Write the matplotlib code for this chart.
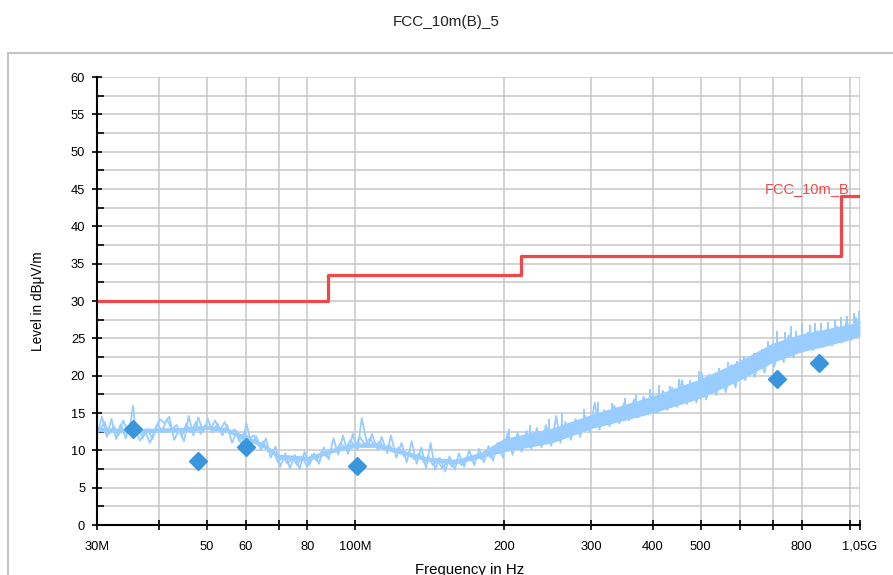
import matplotlib
matplotlib.use("Agg")
import matplotlib.pyplot as plt
import numpy as np
from matplotlib.patches import Rectangle

plt.rcParams['font.family'] = ['Liberation Sans', 'DejaVu Sans']

title = "FCC_10m(B)_5"

# Measured trace (MHz, dBµV/m)
trace_freq = [30, 30.7, 31.4, 32.1, 32.8, 33.5, 34.3, 35.1, 35.5, 35.9, 36.7, 37.5, 38.4, 39.3,
              40.2, 41.1, 42.0, 43.0, 44.0, 45.0, 46.0, 47.0, 48.1, 49.2, 50.3, 51.4, 52.6, 53.8,
              55.0, 56.3, 57.6, 58.9, 60.2, 61.6, 63.0, 64.4, 65.9, 67.4, 68.9, 70.5, 72.1, 73.7,
              75.4, 77.1, 78.9, 80.7, 82.5, 84.4, 86.3, 88.3, 90.3, 92.3, 94.4, 96.6, 98.8, 101,
              103, 106, 108, 111, 113, 116, 118, 121, 124, 127, 130, 133, 136, 139, 142, 145, 148,
              152, 155, 159, 162, 166, 170, 174, 178, 182, 186, 190, 194, 199, 203, 208, 213, 217,
              222, 227, 233, 238, 243, 249, 255, 260, 266, 273, 279, 285, 292, 298, 305, 312, 319,
              327, 334, 342, 350, 358, 366, 374, 383, 391, 400, 409, 419, 428, 438, 448, 458, 469,
              480, 490, 502, 513, 525, 537, 549, 562, 575, 588, 601, 615, 629, 643, 658, 673, 688,
              704, 720, 736, 753, 770, 788, 806, 824, 843, 862, 882, 902, 922, 943, 965, 987, 1010,
              1030, 1050]
trace_level = [12.0, 14.5, 11.8, 14.2, 11.5, 13.5, 11.6, 13.8, 16.0, 12.5, 11.3, 12.6, 11.0, 12.8,
               14.2, 13.6, 14.5, 11.4, 12.8, 11.2, 14.6, 12.0, 14.4, 12.5, 14.2, 12.4, 13.6, 12.0,
               13.4, 11.0, 12.6, 10.6, 13.6, 10.8, 11.9, 10.0, 11.6, 9.0, 10.5, 7.8, 9.6, 7.6,
               9.4, 7.5, 9.8, 8.0, 9.6, 8.2, 10.4, 8.8, 11.6, 9.4, 12.0, 9.5, 12.2, 10.0,
               14.3, 10.4, 12.2, 10.0, 11.8, 9.6, 12.0, 9.0, 11.0, 8.4, 11.2, 8.2, 10.4, 7.6, 11.0, 7.4, 9.0,
               7.2, 9.2, 7.4, 9.6, 7.8, 10.0, 8.0, 10.2, 8.4, 10.6, 8.6, 11.0, 9.0, 12.2, 9.4, 12.4, 9.8,
               12.6, 10.2, 13.0, 10.4, 13.4, 10.6, 14.6, 11.0, 13.8, 11.4, 14.2, 11.8, 14.6, 12.4, 16.4, 12.8, 15.4,
               13.2, 16.0, 13.6, 16.4, 14.0, 16.8, 14.4, 17.2, 14.8, 17.6, 15.0, 18.0, 15.4, 18.4, 15.8, 19.4, 16.2,
               18.8, 16.4, 20.4, 16.8, 19.6, 17.4, 20.0, 17.8, 21.4, 18.4, 22.2, 19.4, 21.6, 19.8, 22.4, 20.4, 24.0,
               21.2, 23.8, 21.8, 25.4, 22.4, 25.2, 23.2, 25.8, 23.4, 26.0, 23.8, 26.2, 24.0, 26.6, 24.4, 27.4, 24.8,
               27.8, 25.4]

# Interleaved trace samples in the lower band (MHz, dBµV/m)
trace2_freq = [30.35, 31.05, 31.75, 32.45, 33.15, 33.9, 34.7, 36.3, 37.1, 37.95,
               38.85, 39.75, 40.65, 41.55, 42.5, 43.5, 44.5, 45.5, 46.5, 47.55,
               48.65, 49.75, 50.85, 52.0, 53.2, 54.4, 55.65, 56.95, 58.25, 59.55,
               60.9, 62.3, 63.7, 65.15, 66.65, 68.15, 69.7, 71.3, 72.9, 74.55,
               76.25, 78.0, 79.8, 81.6, 83.45, 85.35, 87.3, 89.3, 91.3, 93.35,
               95.5, 97.7, 99.9, 102, 104.5, 107, 109.5, 112, 114.5, 117,
               119.5, 122.5, 125.5, 128.5, 131.5, 134.5, 137.5, 140.5, 143.5, 146.5,
               150, 153.5, 157, 160.5, 164, 168, 172, 176, 180, 184,
               188, 192, 196.5]
trace2_level = [12.6, 13.8, 12.2, 13.2, 12.0, 14.0, 12.4, 13.0, 11.6, 12.9,
                11.5, 13.5, 12.6, 14.2, 12.8, 13.4, 11.8, 13.6, 12.4, 13.8,
                12.2, 13.4, 12.8, 14.0, 12.6, 13.8, 12.2, 12.8, 11.2, 12.4,
                11.6, 12.0, 10.6, 11.2, 9.8, 10.0, 8.4, 9.2, 8.2, 9.0,
                8.0, 9.2, 7.8, 9.4, 8.6, 9.8, 9.2, 10.2, 9.8, 11.0,
                10.2, 11.4, 10.4, 11.8, 10.8, 11.6, 10.6, 11.2, 10.2, 10.8,
                9.8, 10.4, 9.2, 9.8, 8.8, 9.6, 8.4, 9.2, 8.0, 8.6,
                7.6, 8.6, 7.8, 8.8, 8.0, 9.0, 8.6, 9.4, 8.8, 10.0,
                9.0, 10.4, 9.6]

# Solid core of the dense trace
band_freq = [30, 35, 40, 45, 50, 55, 60, 65, 70, 80, 90, 100, 110, 125, 140, 160, 180, 200, 250, 300,
             400, 500, 600, 700, 800, 900, 1000, 1050]
band_lo = [12.5, 12.3, 12.4, 12.5, 12.8, 12.4, 11.4, 10.4, 8.9, 8.6, 9.7, 10.4, 10.4, 9.4, 8.5, 8.2,
           9.0, 9.8, 11.0, 12.9, 15.0, 17.0, 19.4, 21.8, 23.2, 24.0, 24.8, 25.3]
band_hi = [13.1, 12.9, 13.0, 13.1, 13.4, 13.0, 12.0, 11.0, 9.5, 9.2, 10.3, 11.0, 11.0, 10.0, 9.1, 8.8,
           9.8, 11.6, 13.0, 14.8, 17.3, 19.6, 22.0, 24.4, 25.6, 26.3, 26.9, 27.3]

# Isolated spikes on top of the dense trace
spike_freq = [205, 226, 247, 262, 290, 310, 330, 352, 370, 395, 412, 433, 452, 475, 497, 520, 545, 568,
              592, 612, 640, 665, 685, 700, 712, 740, 760, 780, 800, 830, 850, 875, 905, 935, 960, 990,
              1020, 1045]
spike_top = [12.8, 13.4, 14.2, 15.0, 15.6, 16.5, 16.4, 17.0, 17.6, 18.2, 18.8, 18.6, 19.6, 19.4, 20.6,
             20.2, 21.0, 21.8, 22.0, 22.6, 23.0, 23.6, 24.6, 24.2, 26.0, 25.8, 26.6, 26.0, 27.0, 26.8,
             27.0, 27.0, 27.2, 27.4, 27.8, 28.0, 28.4, 28.6]

# Final measurement points
peak_freq = [35.4, 48.0, 60.0, 100.8, 714, 868]
peak_level = [12.9, 8.6, 10.4, 7.9, 19.6, 21.7]

# Limit line FCC_10m_B
limit_freq = [30, 88, 88, 216, 216, 960, 960, 1050]
limit_level = [30, 30, 33.5, 33.5, 36, 36, 44, 44]
limit_name = "FCC_10m_B"

xticks = [30, 40, 50, 60, 70, 80, 100, 200, 300, 400, 500, 600, 700, 800, 1000, 1050]
xticklabels = ["30M", "", "50", "60", "", "80", "100M", "200", "300", "400", "500", "", "", "800", "", "1,05G"]
yticks = [0, 5, 10, 15, 20, 25, 30, 35, 40, 45, 50, 55, 60]

fig = plt.figure(figsize=(8.93, 5.75), dpi=100)
fig.patches.append(Rectangle((8 / 893, -0.05), 1.0, 1 - 53 / 575 + 0.05, transform=fig.transFigure,
                             fill=False, edgecolor='#c4c4c4', lw=1.5, clip_on=False))
fig.text(0.5, 1 - 22 / 575, title, ha='center', va='center', fontsize=11, color='#222222')

ax = fig.add_axes([97 / 893, 1 - 525 / 575, 763 / 893, 448 / 575])
ax.set_xscale('log')
ax.set_xlim(30, 1050)
ax.set_ylim(0, 60)

tc = '#99ccff'
ax.fill_between(band_freq, band_lo, band_hi, color=tc, lw=0, zorder=2)
ax.plot(trace_freq, trace_level, color=tc, lw=1.3, zorder=2)
ax.plot(trace2_freq, trace2_level, color=tc, lw=1.3, zorder=2)
ax.vlines(spike_freq, np.interp(spike_freq, band_freq, band_lo), spike_top, color=tc, lw=1.4, zorder=2)
ax.plot(limit_freq, limit_level, color='#f04848', lw=2.3, zorder=3)
ax.plot(peak_freq, peak_level, 'D', color='#3a96dc', ms=9, mec='#3a96dc', zorder=4, clip_on=False)
ax.text(1000, 45, limit_name, ha='right', va='center', color='#f04848', fontsize=10.5)

ax.set_xticks(xticks)
ax.set_xticklabels(xticklabels)
ax.minorticks_off()
ax.set_yticks(yticks)
ax.set_yticks([y + 2.5 for y in yticks[:-1]], minor=True)
ax.tick_params(axis='x', which='major', direction='inout', length=7, width=1.2, labelsize=9.3, pad=8, color='black')
ax.tick_params(axis='y', which='major', direction='inout', length=7, width=1.2, labelsize=9.3, pad=5, color='black')
ax.tick_params(axis='y', which='minor', direction='in', length=5, width=1.2)
ax.grid(True, which='both', color='#c8c8c8', lw=1.1, zorder=0)
ax.set_axisbelow(True)
for s in ['top', 'right']:
    ax.spines[s].set_visible(False)
for s in ['left', 'bottom']:
    ax.spines[s].set_linewidth(1.5)
    ax.spines[s].set_zorder(5)

ax.set_ylabel("Level in dBμV/m", fontsize=9.8)
ax.yaxis.set_label_coords(-0.068, 0.5)
ax.set_xlabel("Frequency in Hz", fontsize=10.8)
ax.xaxis.set_label_coords(0.489, -0.084)

fig.savefig("out.png", dpi=100)
